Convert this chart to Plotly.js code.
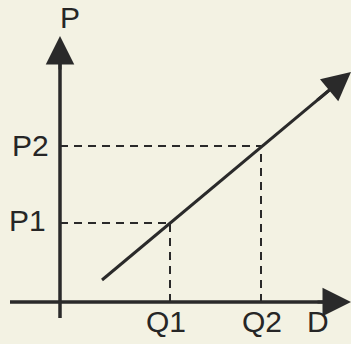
<!DOCTYPE html>
<html>
<head>
<meta charset="utf-8">
<script src="https://cdn.plot.ly/plotly-3.0.1.min.js"></script>
<style>
html,body{margin:0;padding:0;background:#f3f2e3;}
#chart{width:351px;height:344px;}
</style>
</head>
<body>
<div id="chart"></div>
<script>
// Values (origin = axis crossing)
const priceLabels = ['P1', 'P2'];
const priceValues = [79, 156];
const quantityLabels = ['Q1', 'Q2'];
const quantityValues = [110, 201];
const supplyX = [42, 291];
const supplyY = [22, 230];
const axisXEnd = 291;   // D axis arrow tip
const axisXStart = -50;
const axisYEnd = 266;   // P axis arrow tip
const axisYStart = -16;
const xAxisTitle = 'D';
const yAxisTitle = 'P';

const ink = '#2a2a2a';
const fontSpec = {family: 'Liberation Sans, Arial, sans-serif', size: 30, color: '#262626'};

const traces = [];
// axes
traces.push({x: [axisXStart, axisXEnd - 12], y: [0, 0], mode: 'lines', line: {color: ink, width: 3.5}, hoverinfo: 'skip', cliponaxis: false});
traces.push({x: [0, 0], y: [axisYStart, axisYEnd - 12], mode: 'lines', line: {color: ink, width: 3.5}, hoverinfo: 'skip', cliponaxis: false});
// dashed guides
for (let i = 0; i < priceValues.length; i++) {
  traces.push({x: [0, quantityValues[i]], y: [priceValues[i], priceValues[i]], mode: 'lines', line: {color: ink, width: 2, dash: '8px,6px'}, hoverinfo: 'skip', cliponaxis: false});
  traces.push({x: [quantityValues[i], quantityValues[i]], y: [0, priceValues[i]], mode: 'lines', line: {color: ink, width: 2, dash: '8px,6px'}, hoverinfo: 'skip', cliponaxis: false});
}
// supply line
traces.push({x: [supplyX[0], supplyX[1] - 10], y: [supplyY[0], supplyY[0] + (supplyY[1] - supplyY[0]) * (supplyX[1] - 10 - supplyX[0]) / (supplyX[1] - supplyX[0])], mode: 'lines', line: {color: ink, width: 3}, hoverinfo: 'skip', cliponaxis: false});

const annotations = [];
function arrow(x, y, ax, ay) {
  annotations.push({x: x, y: y, ax: ax, ay: ay, xref: 'x', yref: 'y', axref: 'x', ayref: 'y',
    text: '', showarrow: true, arrowhead: 2, arrowsize: 1.9, arrowwidth: 3, arrowcolor: ink, standoff: 0});
}
arrow(axisXEnd, 0, axisXEnd - 35, 0);
arrow(0, axisYEnd, 0, axisYEnd - 35);
arrow(supplyX[1], supplyY[1], supplyX[1] - 35, supplyY[1] - 35 * (supplyY[1] - supplyY[0]) / (supplyX[1] - supplyX[0]));

function label(text, x, y) {
  annotations.push({x: x, y: y, xref: 'x', yref: 'y', text: text, showarrow: false, font: fontSpec, xanchor: 'center', yanchor: 'middle'});
}
label(yAxisTitle, 9.5, 285);
label(xAxisTitle, 258, -19);
label(priceLabels[0], -33, priceValues[0] + 3);
label(priceLabels[1], -30, priceValues[1] + 1);
label(quantityLabels[0], quantityValues[0] - 4, -19);
label(quantityLabels[1], quantityValues[1] + 1, -19);

const layout = {
  width: 351, height: 344,
  margin: {l: 0, r: 0, t: 0, b: 0, pad: 0},
  paper_bgcolor: '#f3f2e3', plot_bgcolor: '#f3f2e3',
  showlegend: false,
  xaxis: {range: [-60, 291], visible: false, fixedrange: true},
  yaxis: {range: [-42, 302], visible: false, fixedrange: true},
  annotations: annotations
};
Plotly.newPlot('chart', traces, layout, {displayModeBar: false, staticPlot: true});
</script>
</body>
</html>
